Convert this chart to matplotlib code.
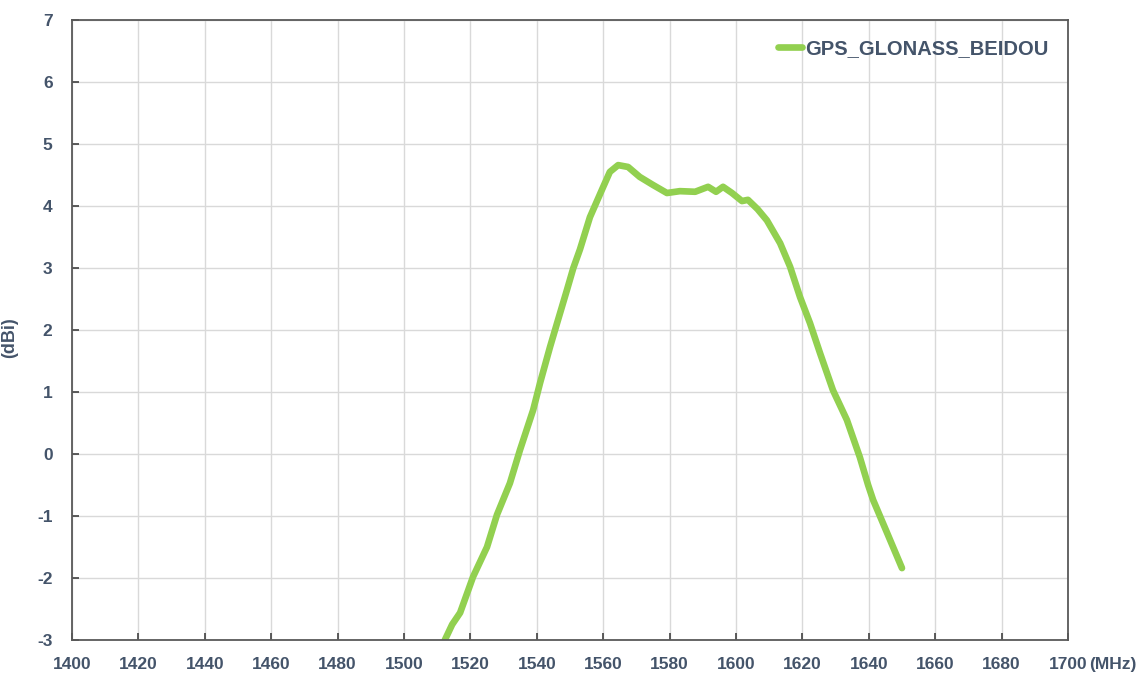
import matplotlib.pyplot as plt

# Datos
frecuencia = [1512.3, 1514.5, 1516.9, 1520.8, 1525.0, 1528.0, 1531.9, 1534.9, 1538.9,
              1541.0, 1544.0, 1546.1, 1549.1, 1551.0, 1553.0, 1556.0, 1559.6, 1562.0,
              1564.5, 1567.5, 1571.0, 1575.0, 1579.2, 1583.1, 1587.7, 1591.6, 1594.0,
              1596.1, 1598.8, 1601.8, 1603.6, 1606.5, 1609.3, 1613.3, 1616.3, 1619.3,
              1622.3, 1625.3, 1629.2, 1633.4, 1637.3, 1639.8, 1641.3, 1645.5, 1650.0]
ganancia = [-3.0, -2.75, -2.56, -1.98, -1.5, -0.98, -0.47, 0.06, 0.71,
            1.15, 1.73, 2.11, 2.65, 3.0, 3.3, 3.82, 4.26, 4.55,
            4.66, 4.63, 4.47, 4.34, 4.21, 4.24, 4.23, 4.31, 4.23,
            4.31, 4.21, 4.08, 4.1, 3.95, 3.77, 3.4, 3.02, 2.53,
            2.11, 1.63, 1.03, 0.55, -0.05, -0.5, -0.74, -1.27, -1.84]
serie = 'GPS_GLONASS_BEIDOU'
x_ticks = list(range(1400, 1701, 20))
y_ticks = list(range(-3, 8))

TEXTO = '#44546A'
plt.rcParams['font.family'] = ['Liberation Sans', 'DejaVu Sans']
plt.rcParams['axes.unicode_minus'] = False

fig = plt.figure(figsize=(11.47, 6.79), dpi=100)
ax = fig.add_axes([0.0628, 0.0574, 0.8683, 0.9131])

ax.plot(frecuencia, ganancia, color='#92D050', linewidth=4.8,
        solid_capstyle='round', solid_joinstyle='round', label=serie)

ax.set_xlim(1400, 1700)
ax.set_ylim(-3, 7)
ax.set_xticks(x_ticks)
ax.set_yticks(y_ticks)
ax.grid(True, color='#D9D9D9', linewidth=1.0)
ax.set_axisbelow(True)

for s in ax.spines.values():
    s.set_color('#595959')
    s.set_linewidth(1.3)

ax.tick_params(direction='in', length=5, width=1.2, color='#404040',
               labelsize=12.5, labelcolor=TEXTO)
ax.tick_params(axis='x', pad=12.5)
ax.tick_params(axis='y', pad=14)
for lbl in ax.get_xticklabels() + ax.get_yticklabels():
    lbl.set_fontweight('bold')

ax.set_ylabel('(dBi)', fontsize=13, fontweight='bold', color=TEXTO)
ax.yaxis.set_label_coords(-0.054, 0.487)

ax.annotate('(MHz)', xy=(1, 0), xycoords='axes fraction', xytext=(15, -12.5),
            textcoords='offset points', ha='left', va='top',
            fontsize=12.5, fontweight='bold', color=TEXTO)

leg = ax.legend(loc='upper right', frameon=False, handlelength=1.2,
                handletextpad=0.15, borderaxespad=0.55,
                prop={'size': 14.5, 'weight': 'bold'})
for t in leg.get_texts():
    t.set_color(TEXTO)

fig.savefig('out.png', dpi=100)
